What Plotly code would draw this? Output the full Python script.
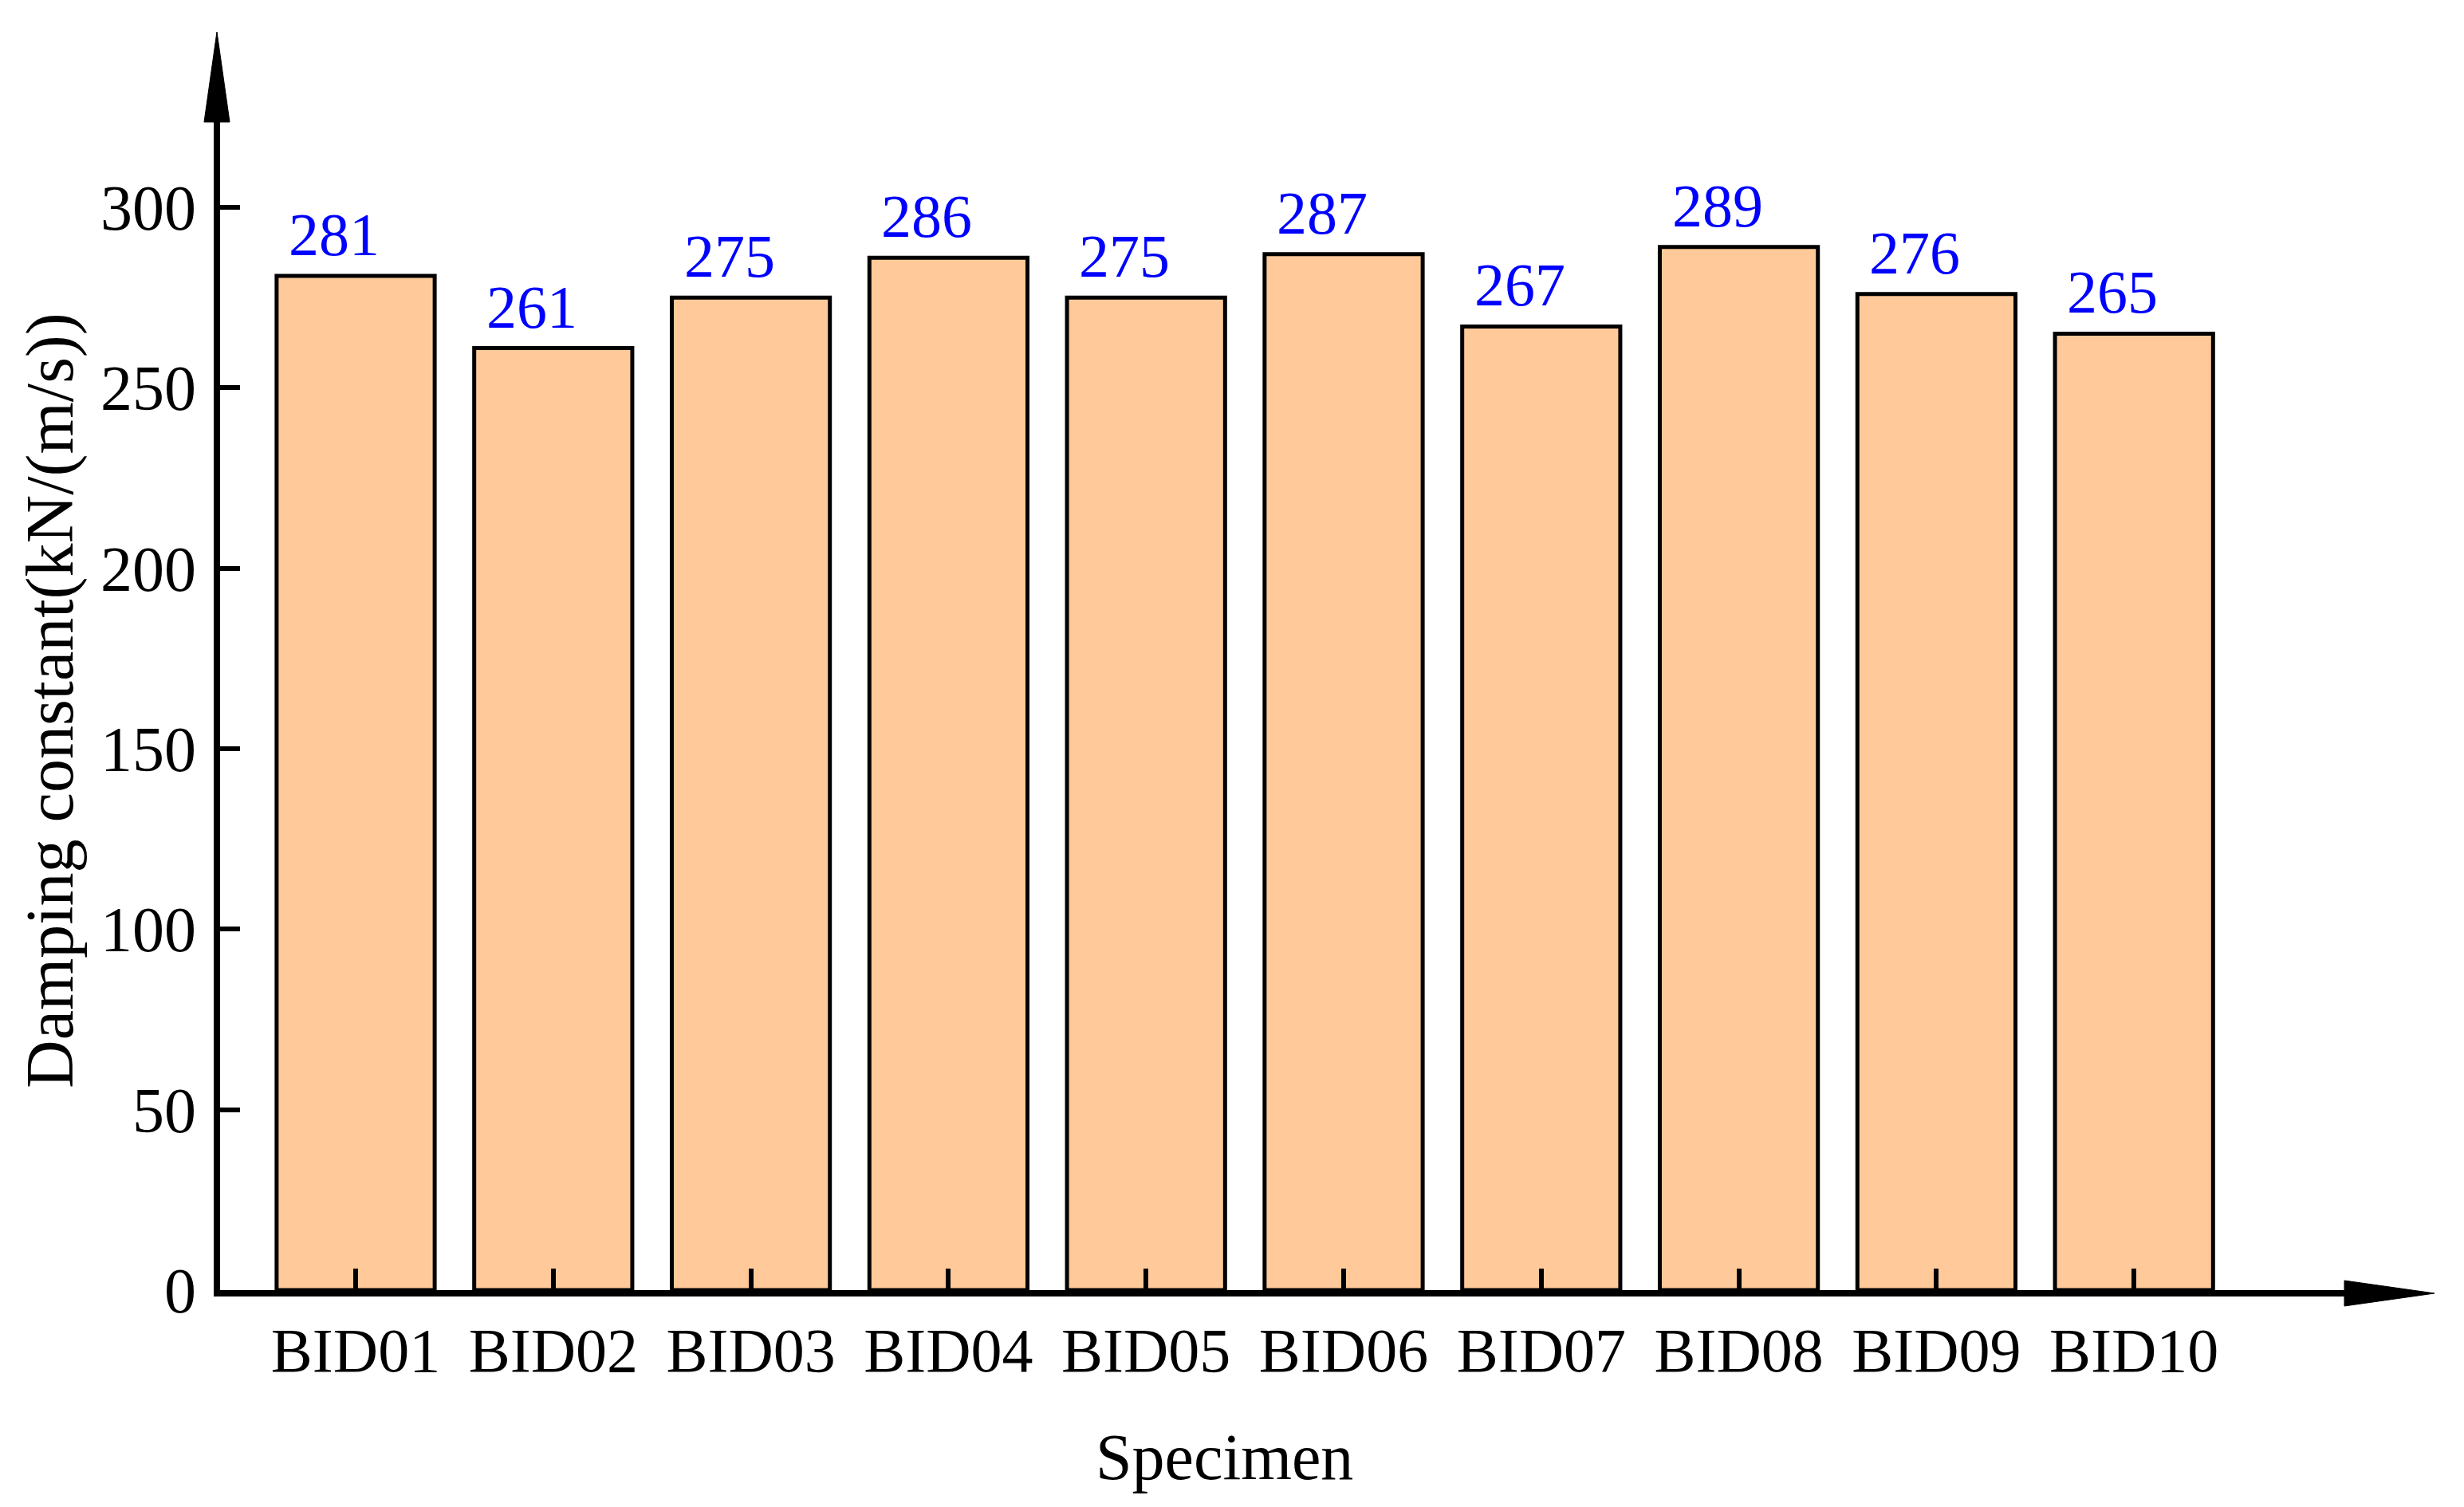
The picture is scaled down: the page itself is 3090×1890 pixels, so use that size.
import plotly.graph_objects as go

specimens = ["BID01", "BID02", "BID03", "BID04", "BID05", "BID06", "BID07", "BID08", "BID09", "BID10"]
damping = [281, 261, 275, 286, 275, 287, 267, 289, 276, 265]
y_ticks = [0, 50, 100, 150, 200, 250, 300]

OFF = 8  # default page body margin
W, H = 3090 - OFF, 1890 - OFF
# plot area in figure coordinates
L, R, T, B = 276 - OFF, 2942 - OFF, 153 - OFF, 1618 - OFF
FONT = "Liberation Serif, Times New Roman, serif"

def px_x(page_x):
    return (page_x - OFF - L) / (R - L)

def px_y(page_y):
    return (B - (page_y - OFF)) / (B - T)

# value scale (page pixels): 0 -> 1618, 300 -> 260
PX_PER_UNIT = (1618 - 260) / 300.0
y_hi = (1618 - 153) / PX_PER_UNIT
# category scale (page pixels): first center 446, spacing 247.8
CAT0, STEP = 446, 247.8
x_lo = (276 - CAT0) / STEP
x_hi = (2942 - CAT0) / STEP

fig = go.Figure()
fig.add_trace(go.Bar(
    x=list(range(len(specimens))), y=damping, width=0.8,
    marker=dict(color="#FFC999", line=dict(color="black", width=5)),
    showlegend=False,
))

annotations = []
for i, v in enumerate(damping):
    annotations.append(dict(x=i, y=v, xref="x", yref="y", text=str(v), showarrow=False,
                            xanchor="center", yanchor="bottom", xshift=-27, yshift=8,
                            font=dict(family=FONT, size=76, color="#0000FF")))
annotations.append(dict(x=px_x(63), y=px_y(879), xref="paper", yref="paper",
                        text="Damping constant(kN/(m/s))", textangle=-90, showarrow=False,
                        xanchor="center", yanchor="middle",
                        font=dict(family=FONT, size=84, color="black")))
annotations.append(dict(x=px_x(1535), y=px_y(1827), xref="paper", yref="paper",
                        text="Specimen", showarrow=False,
                        xanchor="center", yanchor="middle",
                        font=dict(family=FONT, size=82, color="black")))

shapes = [
    dict(type="path", xref="paper", yref="paper",
         path=f"M {px_x(256)} {px_y(153)} L {px_x(288)} {px_y(153)} L {px_x(272)} {px_y(40)} Z",
         fillcolor="black", line=dict(color="black", width=1)),
    dict(type="path", xref="paper", yref="paper",
         path=f"M {px_x(2940)} {px_y(1606)} L {px_x(2940)} {px_y(1638)} L {px_x(3053)} {px_y(1622)} Z",
         fillcolor="black", line=dict(color="black", width=1)),
]

fig.update_layout(
    width=W, height=H,
    margin=dict(l=L, r=W - R, t=T, b=H - B, pad=0),
    paper_bgcolor="white", plot_bgcolor="white",
    xaxis=dict(range=[x_lo, x_hi], tickmode="array", tickvals=list(range(len(specimens))),
               ticktext=specimens, showline=True, linecolor="black", linewidth=8,
               ticks="inside", ticklen=27, tickwidth=6, tickcolor="black",
               showgrid=False, zeroline=False, ticklabelstandoff=0, automargin=False,
               tickfont=dict(family=FONT, size=78, color="black")),
    yaxis=dict(range=[0, y_hi], tickmode="array", tickvals=y_ticks,
               showline=True, linecolor="black", linewidth=8,
               ticks="inside", ticklen=25, tickwidth=6, tickcolor="black",
               showgrid=False, zeroline=False, ticklabelstandoff=6, automargin=False,
               tickfont=dict(family=FONT, size=80, color="black")),
    annotations=annotations,
    shapes=shapes,
)

fig.write_html("out.html")
